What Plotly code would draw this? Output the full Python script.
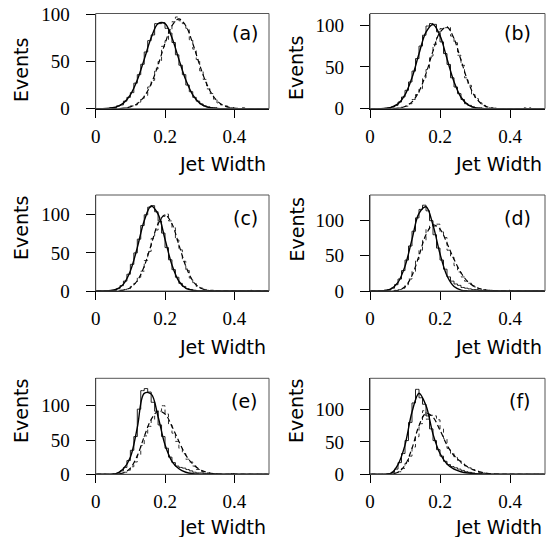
import plotly.graph_objects as go

# ---------------- data ----------------
panel_labels = ["(a)", "(b)", "(c)", "(d)", "(e)", "(f)"]
x_axis_title = "Jet Width"
y_axis_title = "Events"
x_tick_vals = [0, 0.2, 0.4]
x_tick_text = ["0", "0.2", "0.4"]
y_tick_vals = [0, 50, 100]
y_tick_text = ["0", "50", "100"]

bin_centers = [0.005, 0.015, 0.025, 0.035, 0.045, 0.055, 0.065, 0.075, 0.085, 0.095,
               0.105, 0.115, 0.125, 0.135, 0.145, 0.155, 0.165, 0.175, 0.185, 0.195,
               0.205, 0.215, 0.225, 0.235, 0.245, 0.255, 0.265, 0.275, 0.285, 0.295,
               0.305, 0.315, 0.325, 0.335, 0.345, 0.355, 0.365, 0.375, 0.385, 0.395,
               0.405, 0.415, 0.425, 0.435, 0.445, 0.455, 0.465, 0.475, 0.485, 0.495]

curve_x = [0.00, 0.02, 0.04, 0.06, 0.08, 0.10, 0.12, 0.14, 0.16, 0.18, 0.20, 0.22, 0.24,
           0.26, 0.28, 0.30, 0.32, 0.34, 0.36, 0.38, 0.40, 0.42, 0.44, 0.46, 0.48, 0.50]

# solid histograms
hist_solid_a = [0,0,0,0,1,1,3,4,8,12, 17,27,36,47,60,72,78,90,90,91, 85,80,70,57,46,36,25,18,12,8,
                5,3,2,1,1,0,0,0,0,0, 0,0,0,0,0,0,0,0,0,0]
hist_solid_b = [0,0,0,0,0,1,2,4,8,14, 22,32,45,60,75,88,99,102,101,92, 80,66,53,37,26,18,11,6,4,2,
                1,1,0,0,0,0,0,0,0,0, 0,0,0,0,0,0,0,0,0,0]
hist_solid_c = [0,0,0,0,1,1,3,7,13,22, 35,50,68,86,100,110,112,104,92,76, 57,41,28,18,10,6,3,2,1,0,
                0,0,0,0,0,0,0,0,0,0, 0,0,0,0,0,0,0,0,0,0]
hist_solid_d = [0,0,0,0,1,2,4,9,17,29, 44,64,85,104,116,122,114,100,80,61, 44,31,20,14,10,8,5,4,3,2,
                2,1,1,0,0,0,0,0,0,0, 0,0,0,0,0,0,0,0,0,0]
hist_solid_e = [0,0,0,0,0,1,2,5,10,20, 35,55,95,122,125,120,105,92,72,55, 38,25,17,12,10,9,7,5,3,2,
                2,1,1,0,0,0,0,0,0,1, 0,0,0,0,0,0,0,0,0,0]
hist_solid_f = [0,0,0,0,0,1,3,8,18,32, 52,80,110,131,118,108,90,70,52,38, 28,20,15,12,10,8,6,4,3,2,
                1,1,0,0,0,0,0,0,0,0, 0,0,0,0,0,0,0,0,0,0]

# dashed histograms
hist_dash_a = [0,0,0,0,0,0,0,0,1,1, 3,4,7,11,14,23,30,42,50,66, 72,82,92,97,93,90,85,73,63,52,
               40,31,21,16,10,6,4,3,1,1, 0,0,1,0,0,0,0,0,0,0]
hist_dash_b = [0,0,0,0,0,0,0,0,1,2, 3,6,11,17,24,37,47,63,77,85, 96,97,98,87,79,64,52,37,28,17,
               12,7,4,2,1,1,0,0,0,0, 0,0,0,0,1,1,0,0,0,0]
hist_dash_c = [0,0,0,0,0,0,0,1,2,3, 6,10,18,26,40,52,69,80,94,98, 101,92,83,67,54,39,27,17,11,6,
               4,2,1,1,0,0,0,0,0,0, 0,0,0,0,1,0,0,0,0,0]
hist_dash_d = [0,0,0,0,0,0,0,1,2,4, 9,17,28,45,58,72,88,93,92,95, 84,76,58,48,36,27,20,14,11,7,
               4,3,2,1,1,0,0,0,0,1, 0,0,0,0,0,0,0,0,0,0]
hist_dash_e = [0,0,0,0,0,0,1,1,3,6, 11,18,28,42,56,70,80,85,92,100, 88,72,60,48,38,30,22,18,12,7,
               4,3,2,1,1,0,0,0,0,0, 0,0,0,0,0,0,0,0,0,0]
hist_dash_f = [0,0,0,0,0,0,1,2,4,9, 17,28,42,58,78,98,85,91,90,84, 70,55,40,32,26,21,17,13,10,7,
               5,3,2,1,0,0,0,0,0,0, 0,0,0,0,0,0,0,0,0,0]

# smooth solid curves
curve_solid_a = [0,0,0.6,2.0,5.9,14.7,30.3,52.2,75.0,90.0,90.0,75.0,52.2,30.3,14.7,5.9,2.0,0.6,0.1,0,0,0,0,0,0,0]
curve_solid_b = [0,0,0.4,1.6,5.8,16.5,37.1,65.7,91.7,100.9,87.5,59.8,32.2,13.7,4.6,1.2,0.3,0,0,0,0,0,0,0,0,0]
curve_solid_c = [0,0,0.4,2.3,9.0,26.3,57.0,92.3,111.6,100.8,67.9,34.2,12.8,3.6,0.8,0.1,0,0,0,0,0,0,0,0,0,0]
curve_solid_d = [0,0,0.5,3.0,12.2,35.2,73.4,110.4,119.8,93.7,52.9,21.6,6.3,1.3,0.2,0,0,0,0,0,0,0,0,0,0,0]
curve_solid_e = [0,0,0,1,8,25,68,118,117,84,43,19,8,3,1,0.3,0,0,0,0,0,0,0,0,0,0]
curve_solid_f = [0,0,0,1.5,15,45,96,125,106,62,32,16,8,4,2,1,0.4,0,0,0,0,0,0,0,0,0]

# smooth dashed curves
curve_dash_a = [0,0,0,0,0.6,1.9,5.3,12.9,26.4,46.2,69.0,87.7,95.0,87.7,69.0,46.2,26.4,12.9,5.3,1.9,0.6,0.1,0,0,0,0]
curve_dash_b = [0,0,0,0,0.7,2.6,8.1,20.6,42.0,69.0,91.5,97.6,83.9,58.1,32.4,14.5,5.3,1.5,0.4,0,0,0,0,0,0,0]
curve_dash_c = [0,0,0,0,1.1,4.4,13.5,32.5,60.7,88.2,100,88.2,60.7,32.5,13.5,4.4,1.1,0.2,0,0,0,0,0,0,0,0]
curve_dash_d = [0,0,0,0,1,6,22,50,80,94,88,68,45,26,13,6,2.5,1,0.3,0,0,0,0,0,0,0]
curve_dash_e = [0,0,0,0.3,2,9,27,55,80,92,88,70,48,28,15,7,3,1,0.3,0,0,0,0,0,0,0]
curve_dash_f = [0,0,0,0.3,3,14,40,75,94,88,68,45,29,19,11,6,3,1.2,0.4,0,0,0,0,0,0,0]

y_max = [100.7, 114, 126, 136.5, 140, 148]

hists_solid = [hist_solid_a, hist_solid_b, hist_solid_c, hist_solid_d, hist_solid_e, hist_solid_f]
hists_dash = [hist_dash_a, hist_dash_b, hist_dash_c, hist_dash_d, hist_dash_e, hist_dash_f]
curves_solid = [curve_solid_a, curve_solid_b, curve_solid_c, curve_solid_d, curve_solid_e, curve_solid_f]
curves_dash = [curve_dash_a, curve_dash_b, curve_dash_c, curve_dash_d, curve_dash_e, curve_dash_f]

# ---------------- layout geometry (pixels) ----------------
W, H = 552, 537
col_x = [(95.7, 269.0), (370.0, 545.0)]
row_y = [(13.5, 108.7), (195.0, 291.0), (378.3, 474.3)]


def px_x(p):
    return p / W


def px_y(p):
    return 1 - p / H


fig = go.Figure()
layout = dict(
    template="none",
    width=W, height=H, autosize=False,
    margin=dict(l=0, r=0, t=0, b=0, pad=0, autoexpand=False),
    paper_bgcolor="white", plot_bgcolor="white",
    showlegend=False,
    annotations=[], shapes=[],
)

tick_font = dict(family="Liberation Serif", size=19, color="black")
label_font = dict(family="DejaVu Sans", size=19, color="black")

events_pos = [(21, 70), (296, 68), (21, 228), (296, 229.5), (21, 411), (296, 411)]
jet_y = [164, 347, 527]
lab_y = [32.5, 217.5, 400.5]

for k in range(6):
    r, c = divmod(k, 2)
    n = k + 1
    xa = "x" if n == 1 else f"x{n}"
    ya = "y" if n == 1 else f"y{n}"
    x0, x1 = col_x[c]
    yt, yb = row_y[r]

    layout[f"xaxis{'' if n == 1 else n}"] = dict(
        domain=[px_x(x0), px_x(x1)], anchor=ya, range=[0, 0.5], automargin=False,
        tickvals=x_tick_vals, ticktext=x_tick_text, ticks="outside", ticklen=8,
        tickwidth=1.2, tickcolor="black", showline=True, linecolor="black", linewidth=1.2,
        showgrid=False, zeroline=False, tickfont=tick_font, ticklabelstandoff=2,
    )
    layout[f"yaxis{'' if n == 1 else n}"] = dict(
        domain=[px_y(yb), px_y(yt)], anchor=xa, range=[0, y_max[k]], automargin=False,
        tickvals=y_tick_vals, ticktext=y_tick_text, ticks="outside", ticklen=9,
        tickwidth=1.2, tickcolor="black", showline=True, linecolor="black", linewidth=1.2,
        showgrid=False, zeroline=False, tickfont=tick_font, ticklabelstandoff=12,
    )

    # frame
    layout["shapes"].append(dict(
        type="rect", xref=f"{xa} domain", yref=f"{ya} domain",
        x0=0, x1=1, y0=0, y1=1, line=dict(color="#555", width=1), layer="above"))

    fig.add_trace(go.Scatter(x=bin_centers, y=hists_solid[k], mode="lines", xaxis=xa, yaxis=ya,
                             line=dict(color="#222", width=1, shape="hvh")))
    fig.add_trace(go.Scatter(x=bin_centers, y=hists_dash[k], mode="lines", xaxis=xa, yaxis=ya,
                             line=dict(color="#333", width=1, shape="hvh", dash="4px,3px")))
    fig.add_trace(go.Scatter(x=curve_x, y=curves_solid[k], mode="lines", xaxis=xa, yaxis=ya,
                             line=dict(color="black", width=1.4, shape="spline", smoothing=1.0)))
    fig.add_trace(go.Scatter(x=curve_x, y=curves_dash[k], mode="lines", xaxis=xa, yaxis=ya,
                             line=dict(color="black", width=1.2, shape="spline", smoothing=1.0,
                                       dash="5px,3px")))

    ex, ey = events_pos[k]
    layout["annotations"].append(dict(
        text=y_axis_title, xref="paper", yref="paper", x=px_x(ex), y=px_y(ey),
        xanchor="center", yanchor="middle", textangle=-90, showarrow=False, font=label_font))
    layout["annotations"].append(dict(
        text=x_axis_title, xref="paper", yref="paper", x=px_x(x1 - 1), y=px_y(jet_y[r]),
        xanchor="right", yanchor="middle", showarrow=False, font=label_font))
    layout["annotations"].append(dict(
        text=panel_labels[k], xref="paper", yref="paper", x=px_x(x1 - 9 - 3 * c), y=px_y(lab_y[r]),
        xanchor="right", yanchor="middle", showarrow=False, font=label_font))

fig.update_layout(**layout)
fig.write_html(
    "out.html",
    config={"responsive": False, "displayModeBar": False},
    post_script="document.body.style.margin='0';document.body.style.padding='0';"
                "document.documentElement.style.overflow='hidden';",
)
